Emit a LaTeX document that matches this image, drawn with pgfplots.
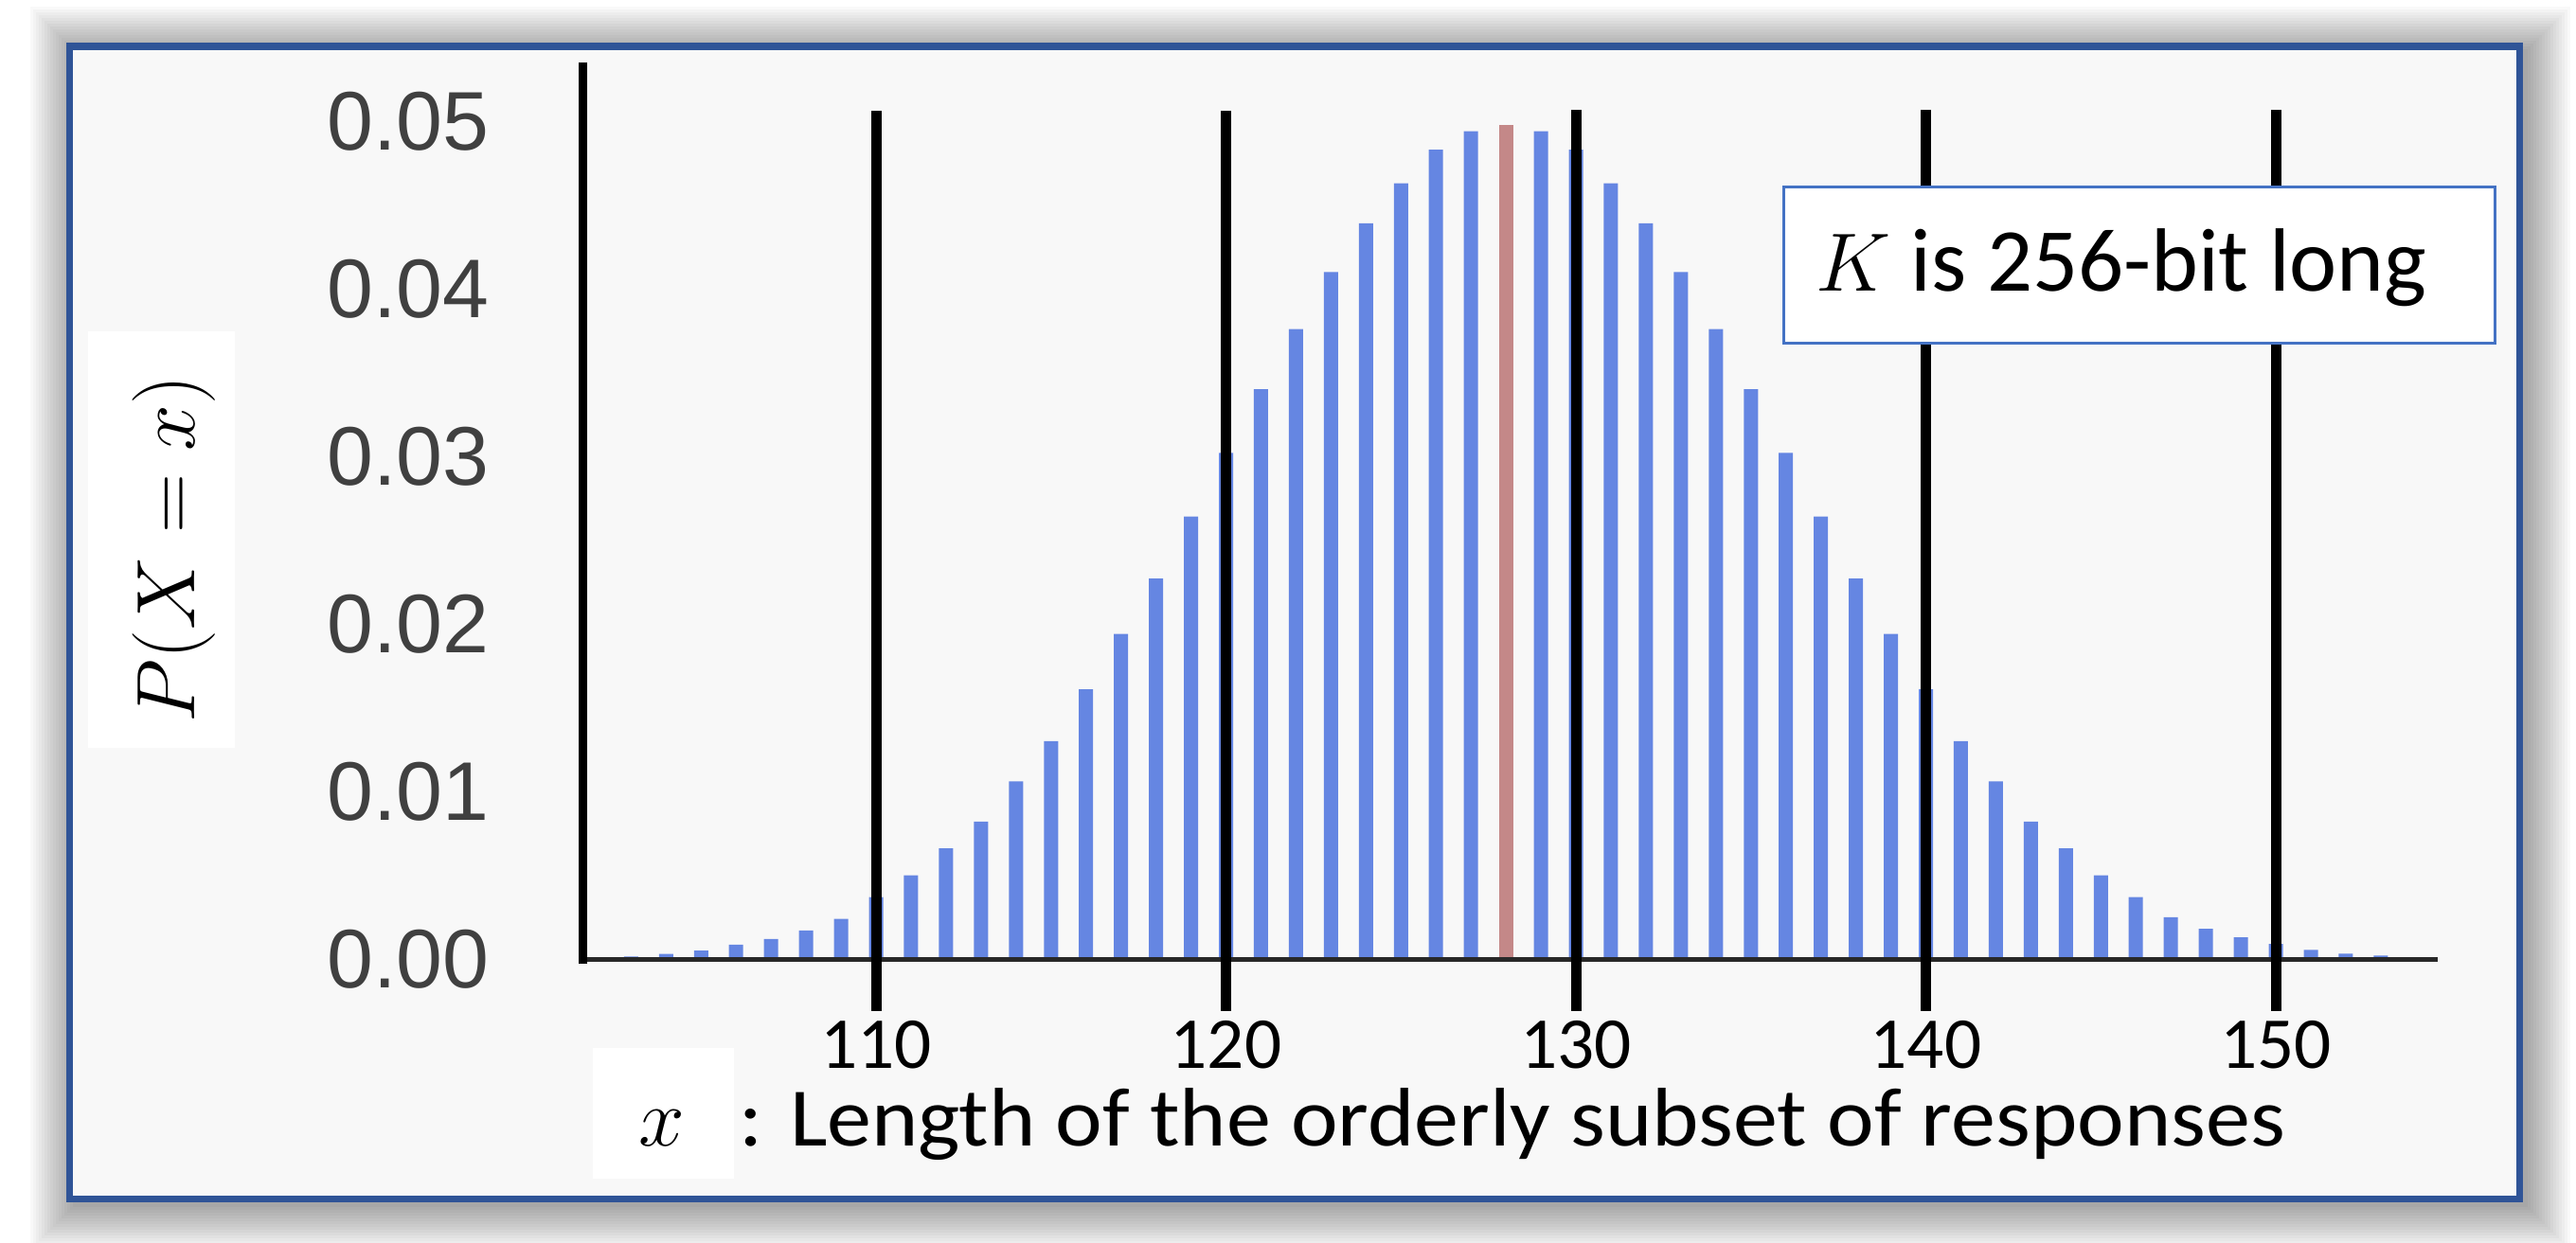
\documentclass[border=0pt]{standalone}
\usepackage{fontspec}
\usepackage{pgfplots}
\usepackage{pgfplotstable}
\pgfplotsset{compat=1.18}
\newfontfamily\carlito{Carlito}
\newfontfamily\carlitowide[FakeStretch=1.07]{Carlito}
\newfontfamily\libsans{Liberation Sans}
\definecolor{barblue}{RGB}{101,134,226}
\definecolor{barred}{RGB}{196,136,136}
\definecolor{frameblue}{RGB}{47,84,151}
\definecolor{boxblue}{RGB}{68,114,196}
\definecolor{ticklab}{RGB}{64,64,64}
\definecolor{axisgray}{RGB}{40,40,40}
\definecolor{interior}{RGB}{248,248,248}

\pgfplotstableread{
x y
103 0.00015
104 0.00030
105 0.00050
106 0.00085
107 0.00120
108 0.00170
109 0.00240
110 0.00370
111 0.00500
112 0.00660
113 0.00820
114 0.01060
115 0.01300
116 0.01610
117 0.01940
118 0.02270
119 0.02640
120 0.03020
121 0.03400
122 0.03760
123 0.04100
124 0.04390
125 0.04630
126 0.04830
127 0.04940
129 0.04940
130 0.04830
131 0.04630
132 0.04390
133 0.04100
134 0.03760
135 0.03400
136 0.03020
137 0.02640
138 0.02270
139 0.01940
140 0.01610
141 0.01300
142 0.01060
143 0.00820
144 0.00660
145 0.00500
146 0.00370
147 0.00250
148 0.00180
149 0.00130
150 0.00090
151 0.00055
152 0.00032
153 0.00020
}\bluedata

\begin{document}
\begin{tikzpicture}
\path[use as bounding box] (0,0) rectangle (27.2,13.12);
\fill[white] (0,0) rectangle (27.2,13.12);
% soft shadow
\foreach \i in {1,...,16}{
  \fill[black, opacity=0.022] (0.735-\i*0.03+0.06, 0.46-\i*0.03-0.06) rectangle (26.60+\i*0.03+0.06, 12.63+\i*0.03-0.06);
}
% frame interior
\fill[interior] (0.735,0.46) rectangle (26.60,12.63);

\begin{axis}[
  at={(6.15cm,2.3705cm)}, anchor=south west,
  scale only axis, width=19.591cm, height=10.089cm,
  xmin=101.61, xmax=154.63, ymin=-0.0035, ymax=0.0535,
  clip=false,
  scaled y ticks=false, scaled x ticks=false,
  axis line style={draw=none},
  major tick length=0pt,
  xtick={110,120,130,140,150},
  xticklabels={110,120,130,140,150},
  ytick={0,0.01,0.02,0.03,0.04,0.05},
  yticklabels={0.00,0.01,0.02,0.03,0.04,0.05},
  xticklabel style={font=\carlito\fontsize{22}{26}\selectfont, anchor=north, inner sep=0pt, yshift=-0.03cm, text=black},
  yticklabel style={font=\libsans\fontsize{25}{30}\selectfont, anchor=east, inner sep=0pt, xshift=-0.98cm, text=ticklab},
]
\addplot[ybar, bar width=0.15cm, bar shift=0pt, fill=barblue, draw=none] table {\bluedata};
\addplot[ybar, bar width=0.15cm, bar shift=0pt, fill=barred, draw=none] coordinates {(128,0.0498)};
\addplot[axisgray, line width=0.05cm] coordinates {(101.61,0) (154.63,0)};
\addplot[black, line width=0.09cm] coordinates {(101.61,-0.0003) (101.61,0.0535)};
\addplot[black, line width=0.11cm] coordinates {(110,-0.0031) (110,0.0506)};
\addplot[black, line width=0.11cm] coordinates {(120,-0.0031) (120,0.0506)};
\addplot[black, line width=0.11cm] coordinates {(130,-0.0031) (130,0.0507)};
\addplot[black, line width=0.11cm] coordinates {(140,-0.0031) (140,0.0507)};
\addplot[black, line width=0.11cm] coordinates {(150,-0.0031) (150,0.0507)};
\end{axis}

\draw[frameblue, line width=0.07cm] (0.735,0.46) rectangle (26.60,12.63);

% y label
\fill[white] (0.93,5.22) rectangle (2.48,9.62);
\node[rotate=90, anchor=base, inner sep=0pt, font=\fontsize{25}{30}\selectfont] at (2.05,7.32) {$P(X = x)$};

% x label
\fill[white] (6.26,0.67) rectangle (7.75,2.05);
\node[anchor=base west, inner sep=0pt, font=\fontsize{25}{30}\selectfont] at (6.74,1.02) {$x$};
\node[anchor=base west, inner sep=0pt, font=\carlitowide\fontsize{25}{30}\selectfont] at (7.80,1.02) {: Length of the orderly subset of responses};

% text box
\draw[boxblue, line width=0.03cm, fill=white] (18.83,9.50) rectangle (26.34,11.15);
\node[anchor=base west, inner sep=0pt, font=\fontsize{26}{31}\selectfont] at (19.17,10.05) {$K$};
\node[anchor=base west, inner sep=0pt, font=\carlito\fontsize{27}{32}\selectfont] at (20.17,10.05) {is 256-bit long};
\end{tikzpicture}
\end{document}
